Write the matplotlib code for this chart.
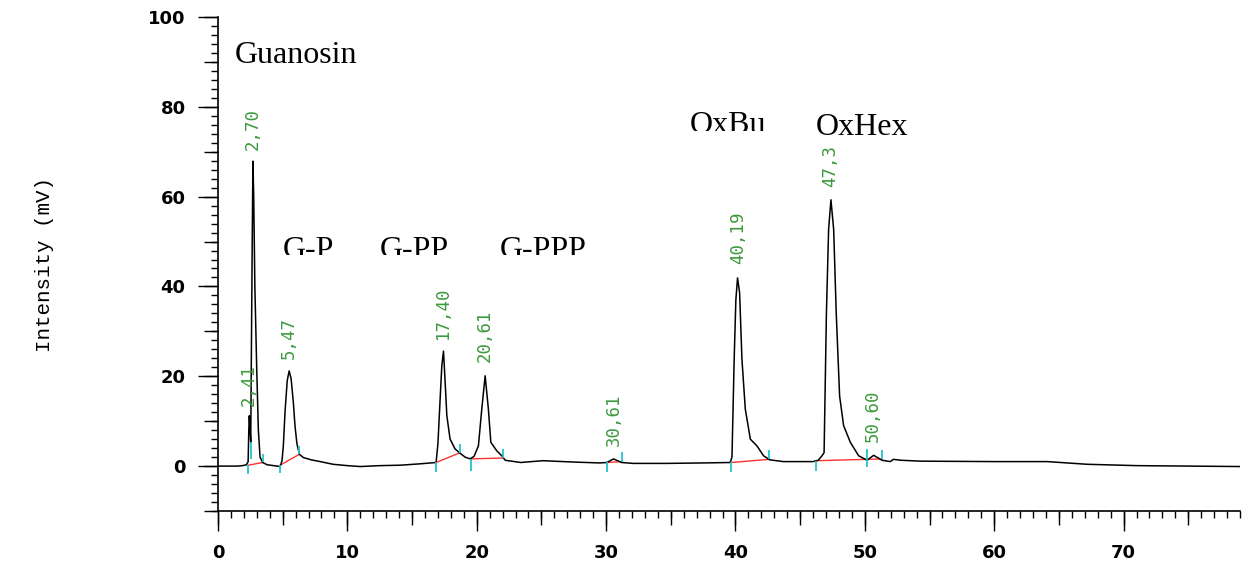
import numpy as np
import matplotlib
matplotlib.use("Agg")
import matplotlib.pyplot as plt
from matplotlib.ticker import MultipleLocator
from matplotlib.transforms import Bbox, TransformedBbox

# chromatogram trace (time in min, intensity in mV)
times = [0.0, 1.5, 1.9, 2.2, 2.33, 2.38, 2.42, 2.47, 2.53, 2.58, 2.64, 2.70,
         2.76, 2.85, 2.99, 3.12, 3.25, 3.45, 3.8, 4.3, 4.8,
         4.95, 5.05, 5.18, 5.35, 5.5, 5.65, 5.83, 5.95, 6.1, 6.3, 6.6, 7.2,
         7.9, 8.9, 10.0, 11.0, 12.5, 14.1, 15.6, 16.86,
         17.0, 17.17, 17.3, 17.43, 17.56, 17.69, 17.94, 18.33, 18.7, 19.1,
         19.5, 19.8, 20.13, 20.39, 20.65, 20.9, 21.09, 21.55, 21.94, 22.2,
         23.4, 25.1, 27.5, 29.5, 30.06, 30.57, 31.2, 32.1, 34.7, 37.5, 39.6,
         39.73, 39.9, 40.03, 40.16, 40.32, 40.5, 40.76, 41.15, 41.66, 42.17,
         42.64, 43.7, 46.0, 46.4, 46.69, 46.85, 47.03, 47.2, 47.38, 47.59,
         47.79, 48.05, 48.36, 48.88, 49.52, 50.17, 50.68, 51.33, 51.97,
         52.2, 52.8, 54.3, 60.0, 64.1, 67.2, 71.05, 79.0]
signal = [0.0, 0.0, 0.1, 0.3, 1.0, 8.0, 11.2, 8.5, 5.3, 25.0, 48.0, 67.9,
          60.0, 40.0, 22.0, 8.0, 2.0, 0.8, 0.3, 0.1, -0.1,
          1.2, 4.5, 12.0, 19.0, 21.2, 19.5, 14.0, 9.0, 5.0, 2.6, 1.9, 1.4,
          1.0, 0.4, 0.1, -0.1, 0.1, 0.2, 0.5, 0.8,
          5.0, 14.9, 22.3, 25.6, 18.6, 11.2, 6.0, 3.8, 2.9, 2.0,
          1.6, 2.2, 4.5, 12.7, 20.1, 12.7, 5.3, 3.4, 2.3, 1.3,
          0.8, 1.2, 0.9, 0.7, 0.8, 1.6, 0.8, 0.6, 0.6, 0.7, 0.8,
          2.0, 23.8, 37.0, 41.9, 38.6, 23.8, 12.7, 6.0, 4.5, 2.3,
          1.4, 1.0, 1.0, 1.3, 2.3, 3.0, 34.0, 52.7, 59.3, 52.7,
          34.0, 15.6, 9.0, 5.3, 2.3, 1.3, 2.4, 1.3, 1.0,
          1.5, 1.3, 1.1, 1.0, 1.0, 0.4, 0.1, -0.1]

# integration baselines (start t, start I, end t, end I)
base_t0 = [2.35, 4.8, 16.86, 19.54, 30.06, 39.68, 46.25]
base_i0 = [0.2, 0.2, 0.8, 1.6, 0.8, 0.8, 1.2]
base_t1 = [3.45, 6.27, 18.72, 22.0, 31.2, 42.6, 51.33]
base_i1 = [0.8, 2.6, 3.0, 1.8, 1.0, 1.5, 1.6]

# peak start/stop markers
mark_t = [2.35, 2.53, 3.45, 4.8, 6.27, 16.86, 18.72, 19.54, 22.0, 30.06,
          31.2, 39.68, 42.6, 46.25, 50.17, 51.33]
mark_lo = [-1.8, 1.6, 0.8, -1.5, 2.6, -1.3, 3.0, -1.0, 1.8, -1.3,
           1.0, -1.3, 1.5, -1.0, -0.2, 1.6]
mark_hi = [0.2, 5.3, 2.6, 0.3, 4.5, 0.8, 4.9, 1.6, 3.8, 0.8,
           3.1, 0.8, 3.5, 1.2, 3.8, 3.6]

# retention time labels
rt_labels = ["2,41", "2,70", "5,47", "17,40", "20,61", "30,61", "40,19",
             "47,3", "50,60"]
rt_x = [2.41, 2.70, 5.47, 17.40, 20.61, 30.61, 40.19, 47.3, 50.60]
rt_y = [13.3, 70.4, 23.8, 28.2, 23.1, 4.5, 44.9, 62.2, 5.3]

# compound names
names = ["Guanosin", "G-P", "G-PP", "G-PPP", "OxBu", "OxHex"]
name_x = [1.3, 5.0, 12.5, 21.8, 36.5, 46.2]
name_y = [89.8, 46.4, 46.4, 46.4, 74.2, 73.8]
name_clip = [None, 47.1, 47.1, 47.1, 74.7, None]

fig = plt.figure(figsize=(12.42, 5.62), dpi=100)
W, H = 1242.0, 562.0
ax = fig.add_axes([218 / W, 1 - 511 / H, (1240 - 218) / W, (511 - 17) / H])

ax.plot(times, signal, color="black", lw=1.1, zorder=3)
for a, b, c, d in zip(base_t0, base_i0, base_t1, base_i1):
    ax.plot([a, c], [b, d], color="#ff3030", lw=1.0, zorder=2)
ax.vlines(mark_t, mark_lo, mark_hi, color="#20c4cc", lw=1.3, zorder=4)

for lab, x, y in zip(rt_labels, rt_x, rt_y):
    ax.text(x, y, lab, rotation=90, ha="center", va="bottom",
            color="#3d9a3d", fontsize=12.5, family="DejaVu Sans Mono")

for lab, x, y, c in zip(names, name_x, name_y, name_clip):
    t = ax.text(x, y, lab, ha="left", va="baseline", fontsize=23,
                family="Liberation Serif", color="black")
    if c is not None:
        t.set_clip_box(TransformedBbox(Bbox.from_extents(x - 1, c, x + 12, 100),
                                       ax.transData))
        t.set_clip_on(True)

ax.set_xlim(0, 79)
ax.set_ylim(-10, 100)
for s in ["top", "right"]:
    ax.spines[s].set_visible(False)
for s in ["left", "bottom"]:
    ax.spines[s].set_linewidth(1.2)

ax.xaxis.set_major_locator(MultipleLocator(10))
ax.xaxis.set_minor_locator(MultipleLocator(1))
ax.yaxis.set_major_locator(MultipleLocator(20))
ax.yaxis.set_minor_locator(MultipleLocator(2))
ax.tick_params(which="major", length=14.4, width=1.0, direction="out",
               labelsize=13, pad=9)
ax.tick_params(which="minor", length=5, width=1.0, direction="out")
for lab in ax.get_xticklabels() + ax.get_yticklabels():
    lab.set_fontweight("bold")

# medium ticks every 5 (x) and 10 (y)
sx = ax.secondary_xaxis("bottom")
sx.set_xticks(np.arange(0, 80, 5))
sx.tick_params(length=10, width=1.0, labelbottom=False)
sx.spines["bottom"].set_visible(False)
sy = ax.secondary_yaxis("left")
sy.set_yticks(np.arange(-10, 101, 10))
sy.tick_params(length=10, width=1.0, labelleft=False)
sy.spines["left"].set_visible(False)

fig.text(45 / W, 1 - 265 / H, "Intensity (mV)", rotation=90, ha="center",
         va="center", fontsize=15, family="Liberation Mono")

fig.savefig("out.png", dpi=100)
